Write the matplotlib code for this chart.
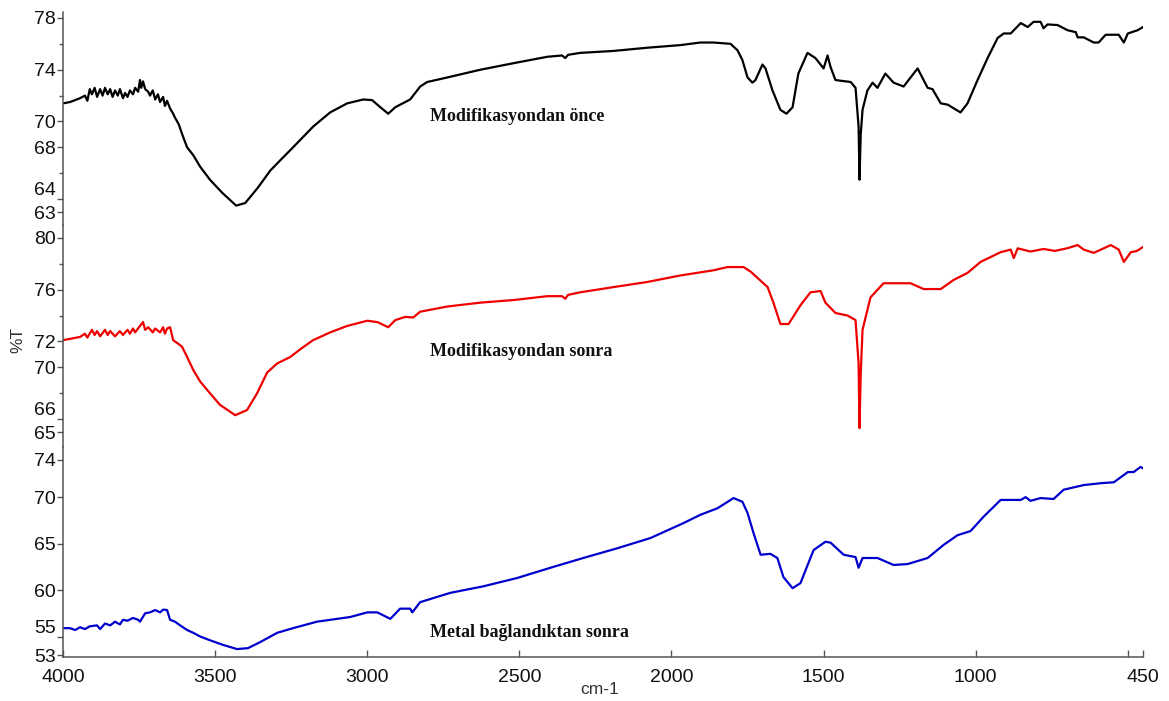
import matplotlib
matplotlib.use("Agg")
import matplotlib.pyplot as plt
from matplotlib.ticker import FixedLocator, NullFormatter

# FTIR spektrumlari: dalga sayisi (cm-1) ve %T
wn_once = [4000, 3977, 3944, 3928, 3920, 3912, 3905, 3896, 3888, 3878,
           3870, 3862, 3853, 3845, 3837, 3829, 3820, 3813, 3803, 3796,
           3788, 3780, 3770, 3763, 3753, 3747, 3743, 3737, 3730, 3720,
           3714, 3705, 3697, 3688, 3681, 3671, 3665, 3658, 3648, 3638,
           3632, 3620, 3605, 3592, 3572, 3549, 3517, 3477, 3431, 3401,
           3359, 3319, 3286, 3244, 3178, 3122, 3066, 3013, 2984, 2957,
           2931, 2908, 2859, 2826, 2803, 2737, 2628, 2520, 2408, 2360,
           2349, 2340, 2300, 2191, 2079, 1971, 1905, 1862, 1806, 1783,
           1767, 1750, 1734, 1724, 1701, 1691, 1668, 1642, 1622, 1602,
           1583, 1553, 1527, 1500, 1487, 1477, 1461, 1411, 1395, 1385,
           1382, 1378, 1372, 1356, 1339, 1323, 1297, 1270, 1237, 1191,
           1158, 1142, 1115, 1092, 1050, 1027, 994, 961, 928, 908,
           885, 852, 829, 810, 787, 777, 764, 731, 698, 671,
           665, 645, 612, 596, 573, 530, 513, 500, 468, 450]
t_once = [71.4, 71.5, 71.8, 72.0, 71.6, 72.5, 72.1, 72.6, 71.9, 72.5,
          72.0, 72.6, 72.1, 72.5, 71.9, 72.4, 72.0, 72.5, 71.8, 72.2,
          71.9, 72.4, 72.1, 72.6, 72.3, 73.2, 72.6, 73.1, 72.5, 72.3,
          72.0, 72.4, 71.7, 72.1, 71.5, 71.9, 71.2, 71.6, 71.0, 70.6,
          70.3, 69.8, 68.8, 68.0, 67.4, 66.5, 65.5, 64.5, 63.5, 63.7,
          64.9, 66.2, 67.0, 68.0, 69.6, 70.7, 71.4, 71.7, 71.65, 71.1,
          70.6, 71.1, 71.7, 72.7, 73.05, 73.4, 74.0, 74.5, 75.0, 75.1,
          74.9, 75.15, 75.3, 75.45, 75.7, 75.9, 76.1, 76.1, 76.0, 75.5,
          74.75, 73.4, 73.0, 73.2, 74.4, 74.1, 72.4, 70.9, 70.6, 71.1,
          73.7, 75.3, 74.9, 74.1, 75.1, 74.2, 73.2, 73.05, 72.6, 69.6,
          65.5, 69.0, 70.9, 72.4, 73.0, 72.6, 73.7, 73.0, 72.7, 74.1,
          72.6, 72.5, 71.4, 71.3, 70.7, 71.4, 73.2, 74.9, 76.45, 76.8,
          76.8, 77.6, 77.3, 77.7, 77.7, 77.2, 77.5, 77.45, 77.05, 76.9,
          76.5, 76.5, 76.1, 76.1, 76.7, 76.7, 76.1, 76.8, 77.05, 77.3]

wn_sonra = [4000, 3977, 3944, 3928, 3920, 3905, 3896, 3888, 3878, 3862,
            3853, 3845, 3829, 3813, 3803, 3788, 3780, 3770, 3763, 3747,
            3737, 3730, 3720, 3705, 3697, 3681, 3671, 3665, 3658, 3648,
            3638, 3620, 3609, 3592, 3572, 3549, 3517, 3484, 3434, 3395,
            3362, 3329, 3296, 3253, 3220, 3178, 3122, 3066, 3000, 2967,
            2931, 2908, 2875, 2849, 2826, 2737, 2628, 2520, 2408, 2360,
            2349, 2340, 2300, 2191, 2079, 1971, 1862, 1816, 1763, 1740,
            1684, 1665, 1642, 1615, 1576, 1543, 1510, 1494, 1461, 1421,
            1395, 1385, 1382, 1378, 1372, 1346, 1303, 1214, 1171, 1115,
            1073, 1027, 984, 918, 885, 875, 862, 820, 777, 740,
            700, 665, 645, 612, 556, 530, 513, 490, 470, 450]
t_sonra = [72.1, 72.2, 72.35, 72.6, 72.3, 72.9, 72.5, 72.8, 72.4, 72.9,
           72.5, 72.8, 72.4, 72.8, 72.5, 72.9, 72.6, 73.0, 72.7, 73.2,
           73.5, 72.9, 73.1, 72.7, 73.0, 72.7, 73.1, 72.6, 73.0, 73.1,
           72.1, 71.8, 71.6, 70.8, 69.8, 68.9, 68.0, 67.1, 66.3, 66.7,
           68.0, 69.6, 70.3, 70.8, 71.4, 72.1, 72.7, 73.2, 73.6, 73.5,
           73.1, 73.65, 73.9, 73.85, 74.3, 74.7, 75.0, 75.2, 75.5, 75.5,
           75.3, 75.6, 75.8, 76.2, 76.6, 77.1, 77.5, 77.75, 77.75, 77.4,
           76.2, 75.0, 73.35, 73.35, 74.8, 75.8, 75.9, 75.0, 74.2, 74.0,
           73.65, 70.3, 65.3, 69.5, 72.9, 75.4, 76.5, 76.5, 76.05, 76.05,
           76.75, 77.3, 78.15, 78.9, 79.1, 78.45, 79.2, 78.95, 79.15, 79.0,
           79.2, 79.45, 79.1, 78.85, 79.45, 79.1, 78.15, 78.9, 79.0, 79.3]

wn_metal = [4000, 3977, 3960, 3944, 3928, 3912, 3888, 3878, 3862, 3845,
            3829, 3813, 3803, 3788, 3770, 3753, 3747, 3730, 3714, 3697,
            3681, 3671, 3658, 3648, 3632, 3615, 3592, 3572, 3549, 3517,
            3474, 3428, 3392, 3352, 3296, 3244, 3165, 3056, 3000, 2967,
            2924, 2892, 2859, 2852, 2826, 2727, 2619, 2507, 2398, 2290,
            2178, 2069, 1961, 1905, 1849, 1796, 1767, 1750, 1730, 1707,
            1675, 1652, 1632, 1602, 1576, 1533, 1494, 1477, 1434, 1395,
            1385, 1372, 1323, 1270, 1224, 1158, 1106, 1060, 1017, 974,
            918, 852, 836, 820, 787, 744, 711, 645, 589, 546,
            500, 481, 458, 450]
t_metal = [55.9, 55.9, 55.7, 56.0, 55.8, 56.1, 56.2, 55.8, 56.4, 56.2,
           56.6, 56.3, 56.8, 56.7, 57.0, 56.8, 56.6, 57.5, 57.6, 57.85,
           57.6, 57.9, 57.85, 56.8, 56.6, 56.2, 55.7, 55.4, 55.0, 54.6,
           54.1, 53.65, 53.75, 54.4, 55.4, 55.9, 56.6, 57.1, 57.6, 57.6,
           56.9, 58.0, 58.0, 57.6, 58.7, 59.7, 60.4, 61.3, 62.4, 63.45,
           64.5, 65.6, 67.2, 68.1, 68.8, 69.9, 69.5, 68.3, 66.1, 63.8,
           63.9, 63.45, 61.4, 60.2, 60.75, 64.3, 65.2, 65.1, 63.8, 63.55,
           62.4, 63.45, 63.45, 62.7, 62.8, 63.45, 64.85, 65.9, 66.35, 67.9,
           69.7, 69.7, 70.0, 69.6, 69.9, 69.8, 70.8, 71.3, 71.5, 71.6,
           72.7, 72.7, 73.25, 73.1]

labels = ["Modifikasyondan önce", "Modifikasyondan sonra", "Metal bağlandıktan sonra"]
colors = ["black", "#ee0000", "#0000cc"]
yticks = [[63, 64, 68, 70, 74, 78], [65, 66, 70, 72, 76, 80], [53, 55, 60, 65, 70, 74]]
yminor = [[66, 72, 76], [68, 74, 78], []]
ylims = [(62.0, 78.46), (63.84, 81.0), (52.8, 75.4)]
label_pos = [(2793, 70.35), (2793, 71.2), (2793, 55.4)]
xticks = [4000, 3500, 3000, 2500, 2000, 1500, 1000, 500, 450]
xticklabels = ["4000", "3500", "3000", "2500", "2000", "1500", "1000", "", "450"]

spectra = [(wn_once, t_once), (wn_sonra, t_sonra), (wn_metal, t_metal)]

fig = plt.figure(figsize=(11.69, 7.01), dpi=100)
boxes = [[0.0539, 0.679, 0.9239, 0.3039],
         [0.0539, 0.3623, 0.9239, 0.3167],
         [0.0539, 0.0628, 0.9239, 0.2996]]

spine_col = "#555555"
for i, (wn, t) in enumerate(spectra):
    ax = fig.add_axes(boxes[i])
    ax.plot(wn, t, color=colors[i], lw=1.6)
    ax.set_xlim(4000, 450)
    ax.set_ylim(*ylims[i])
    for s in ["top", "right"]:
        ax.spines[s].set_visible(False)
    ax.spines["left"].set_color(spine_col)
    ax.spines["left"].set_linewidth(1.1)
    ax.yaxis.set_major_locator(FixedLocator(yticks[i]))
    ax.yaxis.set_minor_locator(FixedLocator(yminor[i]))
    ax.yaxis.set_minor_formatter(NullFormatter())
    ax.tick_params(axis="y", which="major", direction="out", length=4, width=1,
                   color=spine_col, pad=1, labelsize=14, labelcolor="#111111")
    ax.tick_params(axis="y", which="minor", direction="out", length=3, width=1,
                   color=spine_col)
    for lbl in ax.get_yticklabels():
        lbl.set_fontfamily("Liberation Sans")
    # ikinci en alttaki etiket isaretin ustune
    ax.get_yticklabels()[1].set_verticalalignment("bottom")
    ax.text(*label_pos[i], labels[i], ha="left", va="center", fontsize=13,
            fontweight="bold", family="Liberation Serif", color="#111111")
    if i < 2:
        ax.spines["bottom"].set_visible(False)
        ax.tick_params(axis="x", which="both", bottom=False, labelbottom=False)
    else:
        ax.spines["bottom"].set_color(spine_col)
        ax.spines["bottom"].set_linewidth(1.1)
        ax.set_xticks(xticks)
        ax.set_xticklabels(xticklabels, fontsize=14, family="Liberation Sans",
                           color="#111111")
        ax.tick_params(axis="x", direction="in", length=5, width=1,
                       color=spine_col, pad=9)
    ax.patch.set_alpha(0)

fig.text(0.0154, 0.515, "%T", rotation=90, ha="center", va="center",
         fontsize=12.5, family="Liberation Sans", color="#333333")
fig.text(0.513, 0.0157, "cm-1", ha="center", va="center",
         fontsize=12.5, family="Liberation Sans", color="#333333")

fig.savefig("out.png", dpi=100)
